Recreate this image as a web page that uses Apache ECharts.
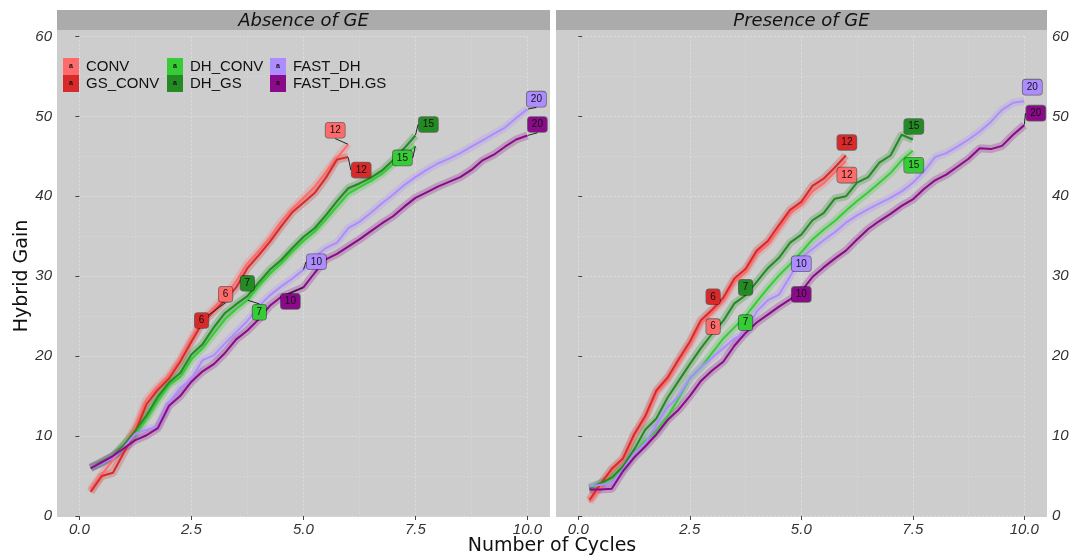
<!DOCTYPE html>
<html>
<head>
<meta charset="utf-8">
<script src="https://cdn.jsdelivr.net/npm/echarts@6/dist/echarts.min.js"></script>
<style>
html, body { margin: 0; padding: 0; background: #fff; }
#chart { width: 1074px; height: 557px; }
</style>
</head>
<body>
<div id="chart"></div>
<script>
// x positions of every sample (Number of Cycles axis)
const cycleX = [0.25, 0.5, 0.75, 1, 1.25, 1.5, 1.75, 2, 2.25, 2.5, 2.75, 3, 3.25, 3.5, 3.75, 4, 4.25, 4.5, 4.75, 5,
  5.25, 5.5, 5.75, 6, 6.25, 6.5, 6.75, 7, 7.25, 7.5, 7.75, 8, 8.25, 8.5, 8.75, 9, 9.25, 9.5, 9.75, 10];

const schemes = ['CONV', 'GS_CONV', 'DH_CONV', 'DH_GS', 'FAST_DH', 'FAST_DH.GS'];
const schemeColors = ['#ff6b6b', '#d82a2a', '#35cc35', '#248a24', '#ad8cff', '#8a0a8a'];
const panelTitles = ['Absence of GE', 'Presence of GE'];
const xTicks = [0, 2.5, 5, 7.5, 10];
const yTicks = [0, 10, 20, 30, 40, 50, 60];

// Absence of GE
const absConv = [3.3, 5.2, 7.0, 8.8, 11.2, 14.6, 16.2, 17.6, 19.6, 22.2, 24.6, 26.0, 27.5, 29.4, 31.6, 33.1, 34.8, 36.8, 38.4, 39.8,
  41.2, 43.0, 44.8, 46.5];
const absGsConv = [3.0, 5.0, 5.4, 8.0, 10.6, 14.0, 15.8, 17.2, 19.3, 21.8, 24.2, 25.6, 27.0, 28.6, 31.0, 32.6, 34.3, 36.2, 38.0, 39.2,
  40.4, 42.3, 44.6, 44.9];
const absDhConv = [6.1, 6.6, 7.4, 9.0, 10.2, 12.2, 14.4, 16.4, 17.4, 19.6, 21.0, 22.8, 24.6, 25.9, 27.0, 28.8, 30.3, 31.6, 33.1, 34.4,
  35.6, 37.1, 38.7, 40.3, 41.1, 41.9, 42.8, 44.0, 45.1, 46.3];
const absDhGs = [6.0, 6.8, 7.5, 8.9, 10.7, 12.6, 14.9, 16.7, 17.9, 20.2, 21.5, 23.6, 25.4, 26.5, 27.5, 29.2, 30.8, 32.0, 33.5, 34.9,
  36.0, 37.6, 39.4, 41.0, 41.6, 42.3, 43.2, 44.5, 46.0, 47.6];
const absFastDh = [6.1, 6.6, 7.3, 8.6, 10.3, 10.8, 11.2, 14.2, 16.0, 17.2, 19.5, 20.1, 21.6, 23.0, 24.4, 26.2, 27.6, 28.7, 29.7, 30.8,
  32.4, 33.5, 34.2, 36.0, 36.8, 37.9, 39.1, 40.2, 41.4, 42.4, 43.3, 44.1, 44.7, 45.4, 46.2, 47.0, 47.8, 48.6, 49.8, 50.9];
const absFastDhGs = [6.0, 6.7, 7.5, 8.5, 9.5, 10.1, 11.0, 13.8, 15.0, 16.8, 18.1, 19.0, 20.4, 22.1, 23.2, 24.6, 26.3, 27.4, 28.0, 28.6,
  30.4, 32.1, 32.8, 33.7, 34.6, 35.6, 36.6, 37.5, 38.7, 39.8, 40.5, 41.2, 41.8, 42.4, 43.3, 44.5, 45.2, 46.2, 47.1, 47.6];

// Presence of GE
const preConv = [1.7, 3.6, 5.7, 6.9, 10.0, 12.2, 15.4, 17.0, 19.3, 21.4, 24.1, 25.5, 26.9, 29.3, 30.5, 32.8, 34.0, 35.9, 37.9, 38.9,
  40.6, 41.6, 43.0, 44.4];
const preGsConv = [2.0, 4.0, 5.9, 7.2, 10.2, 12.5, 15.7, 17.3, 19.6, 21.8, 24.5, 25.8, 27.3, 29.7, 30.9, 33.2, 34.4, 36.4, 38.3, 39.3,
  41.3, 42.2, 43.6, 45.1];
const preDhConv = [3.4, 4.0, 4.7, 5.9, 7.8, 9.4, 10.6, 12.4, 14.7, 17.2, 18.6, 20.4, 22.2, 23.6, 25.0, 26.8, 28.5, 30.1, 31.5, 33.0,
  34.6, 35.8, 36.9, 38.2, 39.4, 40.5, 41.7, 42.9, 44.5, 45.7];
const preDhGs = [3.5, 4.1, 4.8, 6.2, 8.3, 10.8, 12.2, 14.8, 16.9, 19.0, 21.0, 22.8, 24.4, 26.6, 27.6, 29.3, 31.0, 32.3, 34.2, 35.2,
  37.0, 37.9, 39.7, 40.0, 41.7, 42.4, 44.2, 45.1, 47.7, 47.1];
const preFastDh = [3.7, 3.9, 4.1, 5.8, 7.8, 9.1, 11.4, 13.6, 15.0, 17.2, 18.6, 19.8, 21.0, 22.2, 22.9, 25.6, 27.0, 27.7, 30.0, 32.3,
  33.4, 34.5, 35.5, 36.7, 37.6, 38.4, 39.1, 39.8, 40.6, 41.7, 43.1, 44.9, 45.4, 46.2, 47.1, 48.1, 49.3, 50.8, 51.7, 51.9];
const preFastDhGs = [3.3, 3.3, 3.4, 5.6, 7.3, 8.7, 10.2, 12.0, 13.3, 15.0, 16.9, 18.2, 19.3, 21.3, 22.9, 24.2, 25.2, 26.2, 27.1, 28.1,
  29.9, 31.1, 32.2, 33.2, 34.6, 35.9, 36.9, 37.8, 38.8, 39.6, 40.9, 42.0, 42.7, 43.7, 44.7, 46.0, 45.9, 46.3, 47.7, 48.9];

// cycle labels (mid run and end of run) and where they sit on the x axis
const midLabels = ['6', '6', '7', '7', '10', '10'];
const endLabels = ['12', '12', '15', '15', '20', '20'];
const absMidX = [2.75, 2.75, 3.75, 3.75, 5, 5];
const preMidX = [3, 3, 3.75, 3.75, 5, 5];
const endX = [6, 6, 7.5, 7.5, 10, 10];

const panelData = [
  [absConv, absGsConv, absDhConv, absDhGs, absFastDh, absFastDhGs],
  [preConv, preGsConv, preDhConv, preDhGs, preFastDh, preFastDhGs]
];
const panelMidX = [absMidX, preMidX];

// label box nudges in px: [dx, dy, leader line]
const labelNudge = [
  [[23, -25, 1], [-1, -2, 0], [12, 12, 1], [0, -13, 0], [13, -8, 1], [-13, 14, 1],
   [-13, -14, 1], [13, 13, 1], [-13, 12, 1], [13, -11, 1], [9, -10, 1], [10, -11, 1]],
  [[1, 14.5, 0], [1, -13, 0], [0, 6.5, 0], [0, -8, 0], [0, 6, 0], [0, 3, 0],
   [1, 14, 0], [1, -13, 0], [1, 14.5, 0], [1, -13, 0], [8, -14, 0], [11.5, -12, 1]]
];

// panel layout (px)
const panels = [
  { x0: 57, x1: 550, gx0: 79.4, gx1: 527.4 },
  { x0: 556, x1: 1047, gx0: 578.3, gx1: 1024.3 }
];
const panelTop = 30, panelBottom = 516, gridTop = 36.4;

const tickFont = 'Liberation Sans';
const chart = echarts.init(document.getElementById('chart'));

const valueAt = (arr, x) => arr[cycleX.indexOf(x)];

const grids = [], xAxes = [], yAxes = [], series = [];
panels.forEach((p, k) => {
  grids.push({ left: p.gx0, width: p.gx1 - p.gx0, top: gridTop, height: panelBottom - gridTop, containLabel: false });
  xAxes.push({
    type: 'value', gridIndex: k, min: xTicks[0], max: xTicks[xTicks.length - 1], interval: 2.5,
    axisLine: { show: false },
    axisTick: { show: true, length: 4, lineStyle: { color: '#444' } },
    axisLabel: { margin: 6, fontSize: 15, fontStyle: 'italic', fontFamily: tickFont, color: '#333',
      formatter: v => v.toFixed(1) },
    splitLine: { show: true, lineStyle: { color: '#dedede', type: [2, 2], width: 1 } },
    minorTick: { show: false, splitNumber: 2 },
    minorSplitLine: { show: true, lineStyle: { color: '#d6d6d6', type: [2, 2], width: 1 } }
  });
  yAxes.push({
    type: 'value', gridIndex: k, min: yTicks[0], max: yTicks[yTicks.length - 1], interval: 10,
    position: k === 0 ? 'left' : 'right',
    offset: k === 0 ? p.gx0 - p.x0 : p.x1 - p.gx1,
    axisLine: { show: false },
    axisTick: { show: true, length: 4, lineStyle: { color: '#444' } },
    axisLabel: { margin: 5, fontSize: 15, fontStyle: 'italic', fontFamily: tickFont, color: '#333' },
    splitLine: { show: true, lineStyle: { color: '#dedede', type: [2, 2], width: 1 } },
    minorTick: { show: false, splitNumber: 2 },
    minorSplitLine: { show: true, lineStyle: { color: '#d6d6d6', type: [2, 2], width: 1 } }
  });

  const rows = panelData[k];
  rows.forEach((vals, i) => {
    const pts = vals.map((v, j) => [cycleX[j], v]);
    // ribbon
    series.push({
      name: schemes[i] + ' ribbon', type: 'line', xAxisIndex: k, yAxisIndex: k, data: pts,
      showSymbol: false, silent: true, clip: false, z: 1,
      lineStyle: { color: schemeColors[i], width: 8, opacity: 0.26 }
    });
    // line
    series.push({
      name: schemes[i], type: 'line', xAxisIndex: k, yAxisIndex: k, data: pts,
      showSymbol: false, clip: false, z: 3, color: schemeColors[i],
      itemStyle: { color: schemeColors[i] },
      lineStyle: { color: schemeColors[i], width: 2 }
    });
  });

  // labelled boxes
  const boxes = [];
  rows.forEach((vals, i) => {
    const mx = panelMidX[k][i];
    boxes.push({ x: mx, y: valueAt(vals, mx), text: midLabels[i], c: schemeColors[i] });
  });
  rows.forEach((vals, i) => {
    boxes.push({ x: endX[i], y: valueAt(vals, endX[i]), text: endLabels[i], c: schemeColors[i] });
  });
  const nudge = labelNudge[k];
  series.push({
    type: 'scatter', xAxisIndex: k, yAxisIndex: k, z: 6, silent: true, clip: false,
    symbolSize: 1, itemStyle: { color: 'rgba(0,0,0,0)', opacity: 1 },
    data: boxes.map((b, j) => ({
      value: [b.x, b.y],
      label: {
        show: true, position: 'inside', formatter: b.text,
        backgroundColor: b.c, color: '#111', fontSize: 10, fontFamily: tickFont,
        borderColor: 'rgba(0,0,0,0.5)', borderWidth: 0.8, borderRadius: 3, padding: [3, 4, 2, 4]
      },
      labelLine: { show: !!nudge[j][2], lineStyle: { color: '#222', width: 1 } }
    })),
    labelLayout: params => ({ dx: nudge[params.dataIndex][0], dy: nudge[params.dataIndex][1] })
  });
});

const legendBase = {
  orient: 'vertical', top: 58, padding: 0, itemWidth: 16, itemHeight: 17, itemGap: 0, icon: 'rect',
  textStyle: { fontSize: 15, fontFamily: tickFont, color: '#111', padding: [0, 0, 0, 2] },
  selectedMode: false
};

const graphics = [];
panels.forEach((p, k) => {
  graphics.push({ type: 'rect', z: -10, shape: { x: p.x0, y: panelTop, width: p.x1 - p.x0, height: panelBottom - panelTop + 1 },
    style: { fill: '#cdcdcd' } });
  graphics.push({ type: 'rect', z: -10, shape: { x: p.x0, y: 10, width: p.x1 - p.x0, height: panelTop - 10 },
    style: { fill: '#ababab' } });
  graphics.push({ type: 'text', z: 10, style: { text: panelTitles[k], x: (p.x0 + p.x1) / 2, y: 21,
    textAlign: 'center', textVerticalAlign: 'middle', font: 'italic 18px "DejaVu Sans"', fill: '#111' } });
});
graphics.push({ type: 'text', z: 10, style: { text: 'Number of Cycles', x: 552, y: 546,
  textAlign: 'center', textVerticalAlign: 'middle', font: '19px "DejaVu Sans"', fill: '#111' } });
graphics.push({ type: 'text', z: 10, x: 22, y: 276, rotation: Math.PI / 2,
  style: { text: 'Hybrid Gain', x: 0, y: 0, textAlign: 'center', textVerticalAlign: 'middle',
    font: '19px "DejaVu Sans"', fill: '#111' } });
// tiny "a" glyphs inside legend keys
[71, 175, 278].forEach(cx => [66.5, 83.5].forEach(cy => {
  graphics.push({ type: 'text', z: 20, style: { text: 'a', x: cx, y: cy, textAlign: 'center', textVerticalAlign: 'middle',
    font: 'bold 7px "Liberation Sans"', fill: '#111' } });
}));

chart.setOption({
  animation: false,
  backgroundColor: '#ffffff',
  grid: grids,
  xAxis: xAxes,
  yAxis: yAxes,
  legend: [
    Object.assign({}, legendBase, { left: 63, data: [schemes[0], schemes[1]] }),
    Object.assign({}, legendBase, { left: 167, data: [schemes[2], schemes[3]] }),
    Object.assign({}, legendBase, { left: 270, data: [schemes[4], schemes[5]] })
  ],
  graphic: { elements: graphics },
  series: series
});
</script>
</body>
</html>
